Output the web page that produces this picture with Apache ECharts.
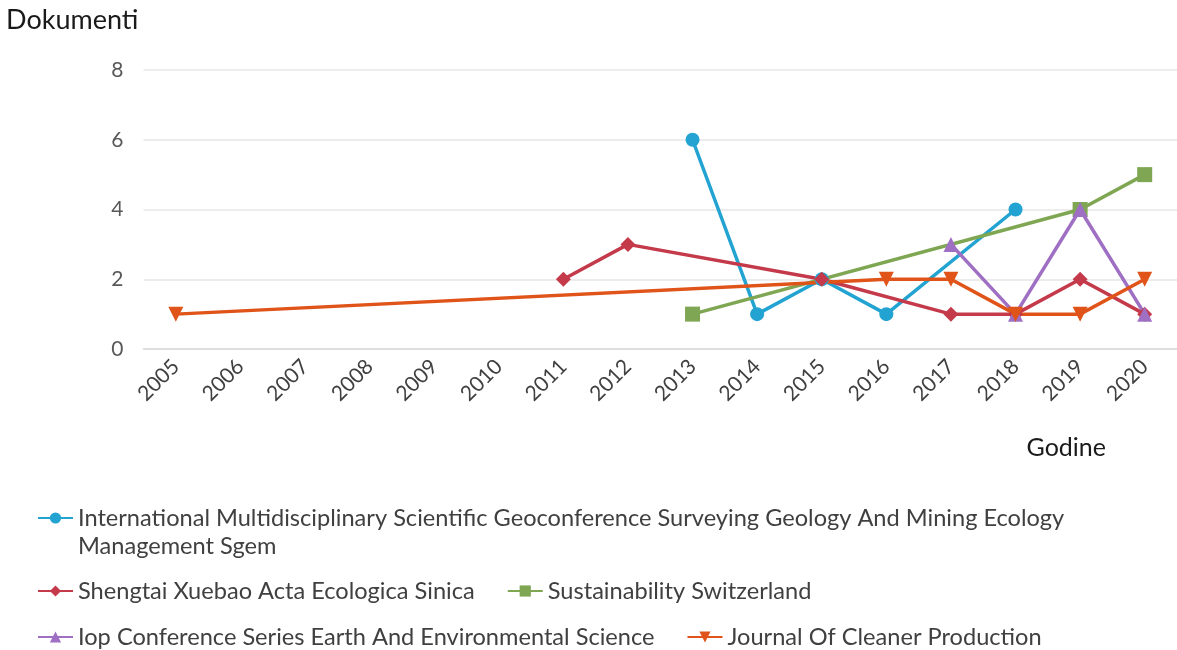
<!DOCTYPE html>
<html>
<head>
<meta charset="utf-8">
<script src="https://cdn.jsdelivr.net/npm/echarts@6/dist/echarts.min.js"></script>
<style>
html,body{margin:0;padding:0;background:#fff;}
#chart{width:1177px;height:650px;}
</style>
</head>
<body>
<div id="chart"></div>
<script>
var years = ['2005','2006','2007','2008','2009','2010','2011','2012','2013','2014','2015','2016','2017','2018','2019','2020'];
var intlGeoconf = [null,null,null,null,null,null,null,null,6,1,2,1,null,4,null,null];
var shengtai    = [null,null,null,null,null,null,2,3,null,null,2,null,1,1,2,1];
var sustainability = [null,null,null,null,null,null,null,null,1,null,null,null,null,null,4,5];
var iopConf     = [null,null,null,null,null,null,null,null,null,null,null,null,3,1,4,1];
var cleanerProd = [1,null,null,null,null,null,null,null,null,null,null,2,2,1,1,2];
var yTicks = [0,2,4,6,8];

var names = [
  'International Multidisciplinary Scientific Geoconference Surveying Geology And Mining Ecology Management Sgem',
  'Shengtai Xuebao Acta Ecologica Sinica',
  'Sustainability Switzerland',
  'Iop Conference Series Earth And Environmental Science',
  'Journal Of Cleaner Production'
];
var colors = ['#22A3D1','#C43A4B','#7FA653','#9E6FC2','#E0541A'];
var FONT = 'Lato';

function mk(i, data, symbol, rotate){
  return {
    name: names[i], type: 'line', data: data, connectNulls: true,
    symbol: symbol, symbolSize: symbol === 'circle' ? 14 : 15, symbolRotate: rotate || 0,
    lineStyle: {width: 3.5, color: colors[i]},
    itemStyle: {color: colors[i]},
    emphasis: {disabled: true}, animation: false
  };
}

var legendText = {fontFamily: FONT, fontSize: 23.6, color: '#404040', lineHeight: 28};
var chart = echarts.init(document.getElementById('chart'));
chart.setOption({
  animation: false,
  textStyle: {fontFamily: FONT},
  grid: {left: 143.5, right: -7.5, top: 70, bottom: 301, containLabel: false},
  legend: [
    {data: [names[0]], left: 32, top: 471, itemWidth: 35, itemHeight: 14, itemGap: 32,
     formatter: function(n){ return ' \nInternational Multidisciplinary Scientific Geoconference Surveying Geology And Mining Ecology\nManagement Sgem'; },
     textStyle: legendText},
    {data: [names[1], names[2]], left: 32, top: 572, itemWidth: 35, itemHeight: 14, itemGap: 32, textStyle: legendText},
    {data: [names[3], names[4]], left: 32, top: 618, itemWidth: 35, itemHeight: 14, itemGap: 32, textStyle: legendText}
  ],
  xAxis: {
    type: 'category', data: years, boundaryGap: true,
    name: 'Godine', nameLocation: 'end', nameGap: 0,
    nameTextStyle: {fontFamily: FONT, fontSize: 25, color: '#1a1a1a', align: 'right', verticalAlign: 'top', padding: [86, 71, 0, 0]},
    axisLine: {lineStyle: {color: '#d9d9d9', width: 1.5}},
    axisTick: {show: false},
    axisLabel: {rotate: 45, interval: 0, fontFamily: FONT, fontSize: 21, color: '#404040', margin: 14}
  },
  yAxis: {
    type: 'value', min: 0, max: 8, interval: 2,
    name: 'Dokumenti', nameLocation: 'end', nameGap: 36,
    nameTextStyle: {fontFamily: FONT, fontSize: 27, color: '#1a1a1a', align: 'right', padding: [0, 5, 0, 0]},
    axisLine: {show: false}, axisTick: {show: false},
    axisLabel: {fontFamily: FONT, fontSize: 21, color: '#595959', margin: 20},
    splitLine: {lineStyle: {color: '#e6e6e6', width: 1.5}}
  },
  series: [
    mk(0, intlGeoconf, 'circle'),
    mk(1, shengtai, 'diamond'),
    mk(2, sustainability, 'rect'),
    mk(3, iopConf, 'triangle'),
    mk(4, cleanerProd, 'triangle', 180)
  ]
});
</script>
</body>
</html>
